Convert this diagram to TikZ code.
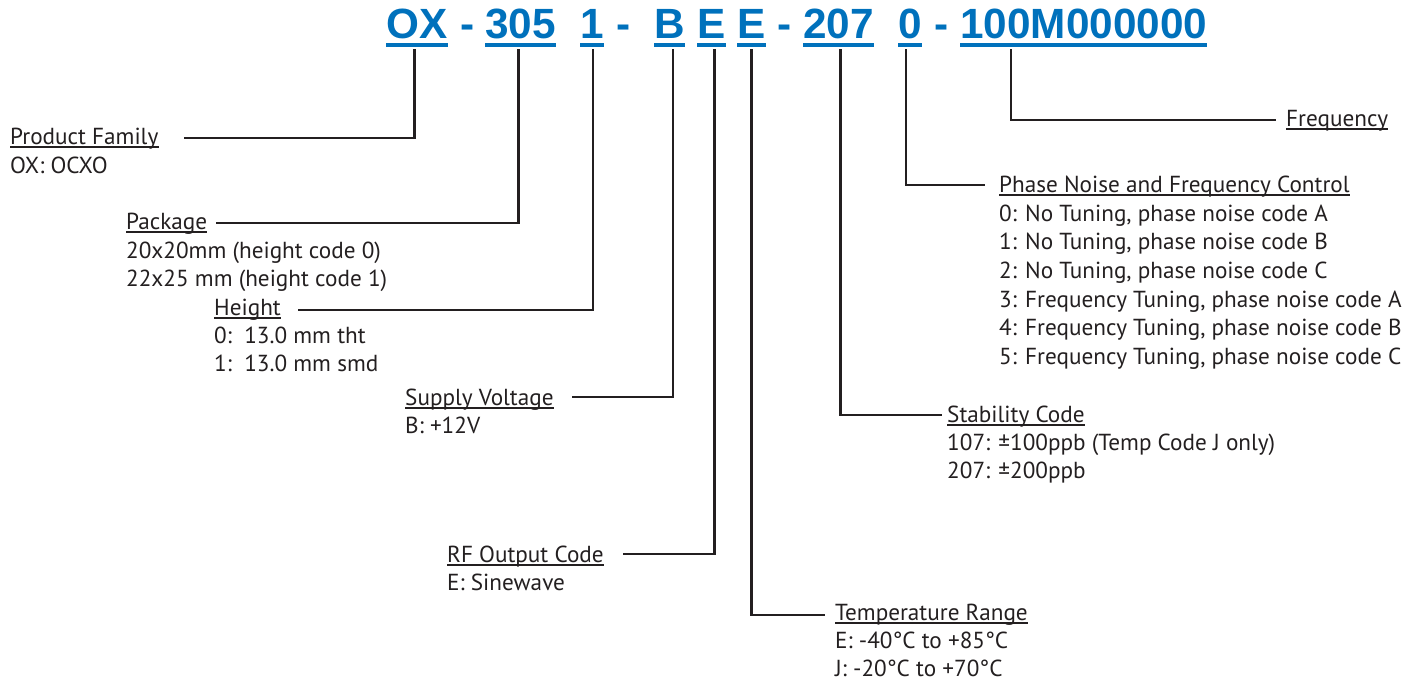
\documentclass[tikz,border=0pt]{standalone}
\usepackage{fontspec}
\setmainfont{PT Sans}
\newfontfamily\hdrfont{Liberation Sans}
\definecolor{ink}{HTML}{231F20}
\definecolor{codeblue}{HTML}{0071BC}
\begin{document}
\begin{tikzpicture}[x=1pt,y=-1pt,
  code/.style={font=\hdrfont\bfseries\fontsize{42.3}{42}\selectfont, text=codeblue, inner sep=0pt, anchor=base west},
  lbl/.style={font=\fontsize{23.2}{28.7}\selectfont, text=ink, inner sep=0pt, anchor=base west},
  conn/.style={draw=ink, line width=2.4pt},
  cul/.style={draw=codeblue, line width=3.5pt},
  lul/.style={draw=ink, line width=1.1pt}]
\useasboundingbox (0,0) rectangle (1421,683);
% header code
\node[code] (ox)   at (386,38) {OX};
\node[code] (h1)   at (460,38) {-};
\node[code] (p305) at (485,38) {305\ };
\node[code] (one)  at (580,38) {1};
\node[code] (h2)   at (616,38) {-};
\node[code] (b)    at (654,38) {B};
\node[code] (e1)   at (697,38) {E};
\node[code] (e2)   at (737,38) {E};
\node[code] (h3)   at (777,38) {-};
\node[code] (s207) at (803,38) {207};
\node[code] (zero) at (898,38) {0};
\node[code] (h4)   at (934,38) {-};
\node[code] (freq) at (960,38) {100M000000};
\foreach \n in {ox,p305,one,b,e1,e2,s207,zero,freq}
  \draw[cul] ([yshift=-7pt]\n.base west) -- ([yshift=-7pt]\n.base east);
% labels
\node[lbl] (pf) at (10,144) {Product Family};
\node[lbl] (pfd) at (10,173) {OX: OCXO};
\node[lbl] (pk) at (126,229) {Package};
\node[lbl] (pkd) at (126,258) {\vtop{\hbox{20x20mm (height code 0)}\hbox{22x25 mm (height code 1)}}};
\node[lbl] (ht) at (214,315) {Height};
\node[lbl] (htd) at (214,343) {\vtop{\hbox{0:\ \ 13.0 mm tht}\hbox{1:\ \ 13.0 mm smd}}};
\node[lbl] (sv) at (405,405) {Supply Voltage};
\node[lbl] (svd) at (405,433) {B: +12V};
\node[lbl] (rf) at (447,562) {RF Output Code};
\node[lbl] (rfd) at (447,590) {E: Sinewave};
\node[lbl] (tr) at (835,620) {Temperature Range};
\node[lbl] (trd) at (835,648) {\vtop{\hbox{E: -40°C to +85°C}\hbox{J: -20°C to +70°C}}};
\node[lbl] (sc) at (947,422) {Stability Code};
\node[lbl] (scd) at (947,450) {\vtop{\hbox{107: ±100ppb (Temp Code J only)}\hbox{207: ±200ppb}}};
\node[lbl] (pn) at (999,192) {Phase Noise and Frequency Control};
\node[lbl] (pnd) at (999,221) {\vtop{\hbox{0: No Tuning, phase noise code A}\hbox{1: No Tuning, phase noise code B}\hbox{2: No Tuning, phase noise code C}\hbox{3: Frequency Tuning, phase noise code A}\hbox{4: Frequency Tuning, phase noise code B}\hbox{5: Frequency Tuning, phase noise code C}}};
\node[lbl] (fr) at (1286,126) {Frequency};
\foreach \n in {pf,pk,ht,sv,rf,tr,sc,pn,fr}
  \draw[lul] ([yshift=-3pt]\n.base west) -- ([yshift=-3pt]\n.base east);
% connectors
\draw[conn] (ox.base)   ++(-2.4,11) |- ([xshift=25pt,yshift=6pt]pf.base east);
\draw[conn] (p305.base) ++(-1.9,11) |- ([xshift=9pt,yshift=6pt]pk.base east);
\draw[conn] (one.base)  ++(1.3,11)  |- ([xshift=17pt,yshift=5pt]ht.base east);
\draw[conn] (b.base)    ++(3.8,11)  |- ([xshift=18pt,yshift=8pt]sv.base east);
\draw[conn] (e1.base)   ++(3,11)    |- ([xshift=19pt,yshift=8pt]rf.base east);
\draw[conn] (e2.base)   ++(0,11)    |- ([xshift=-10pt,yshift=5pt]tr.base west);
\draw[conn] (s207.base) ++(2,11)    |- ([xshift=-5pt,yshift=7pt]sc.base west);
\draw[conn] (zero.base) ++(-3.7,11) |- ([xshift=-14pt,yshift=7pt]pn.base west);
\draw[conn] (freq.base) ++(-72.5,11) |- ([xshift=-10pt,yshift=6pt]fr.base west);
\end{tikzpicture}
\end{document}
